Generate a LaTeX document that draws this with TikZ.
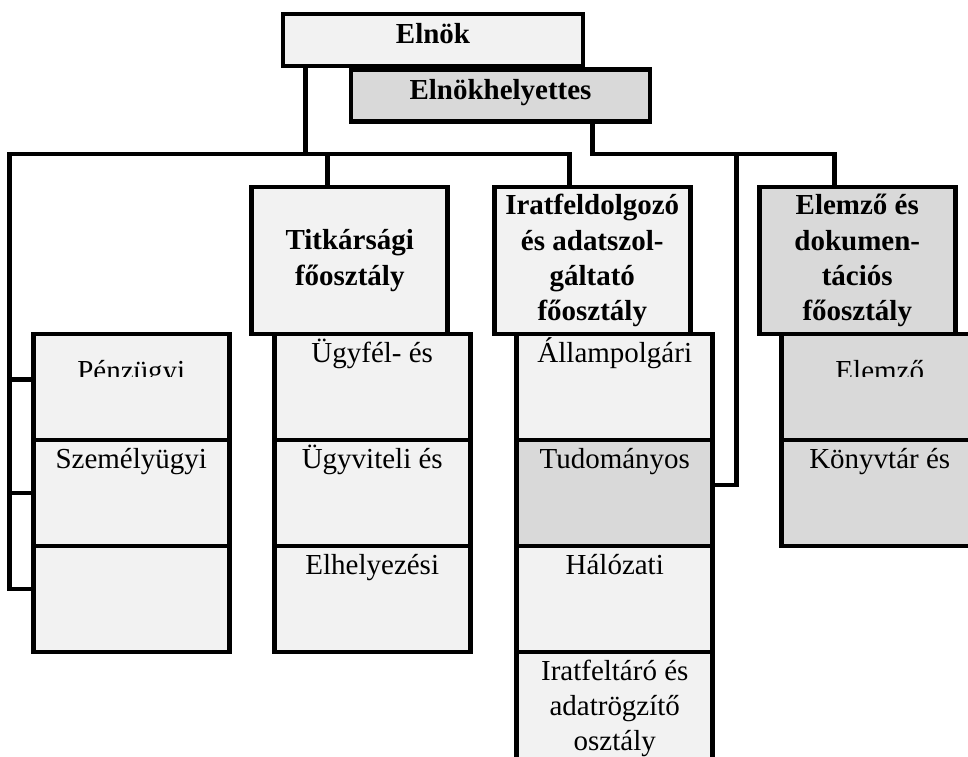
\documentclass[tikz,border=0pt]{standalone}
\usepackage{fontspec}
\setmainfont{Liberation Serif}
\usetikzlibrary{positioning}

\definecolor{lightfill}{HTML}{F2F2F2}
\definecolor{darkfill}{HTML}{D9D9D9}
\newcommand{\chartfont}{\fontsize{16.5}{20}\selectfont}

\begin{document}
\begin{tikzpicture}[x=0.02cm, y=-0.02cm, line width=2.6pt, node distance=0pt,
                font=\chartfont,
                box/.style={draw, inner sep=0pt, outer sep=0pt, minimum width=3.92cm},
                top node/.style={box, font=\chartfont\bfseries, text height=0.6cm, text depth=0.44cm},
                head node/.style={box, font=\chartfont\bfseries, align=center, minimum height=2.94cm},
                unit node/.style={box, text height=0.57cm, text depth=1.55cm}]

  \useasboundingbox (0,0) rectangle (968,757);
  \clip (0,0) rectangle (968,757);

  \node[top node, fill=lightfill, minimum width=6cm] (elnok) at (433,40) {Elnök};
  \node[top node, fill=darkfill, minimum width=5.98cm] (helyettes) at (500.5,95.5) {Elnökhelyettes};

  \node[head node, fill=lightfill] (titk) at (349.75,260.5) {Titkársági\\főosztály};
  \node[head node, fill=lightfill] (irat) at (592.25,260.5) {Iratfeldolgozó\\és adatszol-\\gáltató\\főosztály};
  \node[head node, fill=darkfill] (elemzo) at (857.25,260.5) {Elemző és\\dokumen-\\tációs\\főosztály};

  \node[unit node, fill=lightfill, anchor=north] (penz) at (131.25,334) {};
  \node[unit node, fill=lightfill, below=of penz] (szemely) {Személyügyi};
  \node[unit node, fill=lightfill, below=of szemely] (harmadik) {};

  \node[unit node, fill=lightfill, below=of titk, xshift=0.45cm] (ugyfel) {Ügyfél- és};
  \node[unit node, fill=lightfill, below=of ugyfel] (ugyviteli) {Ügyviteli és};
  \node[unit node, fill=lightfill, below=of ugyviteli] (elhelyezesi) {Elhelyezési};

  \node[unit node, fill=lightfill, below=of irat, xshift=0.45cm] (allampolgari) {Állampolgári};
  \node[unit node, fill=darkfill, below=of allampolgari] (tudomanyos) {Tudományos};
  \node[unit node, fill=lightfill, below=of tudomanyos] (halozati) {Hálózati};
  \node[unit node, fill=lightfill, below=of halozati, text depth=1.9cm] (iratfeltaro)
    {\begin{tabular}[t]{@{}c@{}}Iratfeltáró és\\adatrögzítő\\osztály\end{tabular}};

  \node[unit node, fill=darkfill, below=of elemzo, xshift=0.45cm] (elemzes) {};
  \node[unit node, fill=darkfill, below=of elemzes] (konyvtar) {Könyvtár és};

  \begin{scope}
    \clip (penz.north west) rectangle ([yshift=-0.86cm]penz.north east);
    \node[anchor=base] (penztext) at ([yshift=-0.94cm]penz.north) {Pénzügyi};
  \end{scope}
  \begin{scope}
    \clip (elemzes.north west) rectangle ([yshift=-0.86cm]elemzes.north east);
    \node[anchor=base] (elemzestext) at ([yshift=-0.94cm]elemzes.north) {Elemző};
  \end{scope}

  \coordinate (lbus) at (9.5,154);
  \coordinate (rbus) at (736.5,154);
  \coordinate (elnokOut) at ([xshift=-2.55cm]elnok.south);
  \coordinate (helyOut) at ([xshift=1.84cm]helyettes.south);
  \coordinate (titkIn) at ([xshift=-0.45cm]titk.north);
  \coordinate (iratIn) at ([xshift=-0.45cm]irat.north);
  \coordinate (elemzoIn) at ([xshift=-0.45cm]elemzo.north);
  \coordinate (penzIn) at ([yshift=0.15cm]penz.west);
  \coordinate (harmIn) at ([yshift=0.2cm]harmadik.west);
  \coordinate (tudIn) at ([yshift=0.16cm]tudomanyos.east);

  \draw (elnokOut) -- (elnokOut |- lbus);
  \draw (iratIn) |- (lbus) |- (harmIn);
  \draw (titkIn) -- (titkIn |- lbus);
  \draw (penzIn -| lbus) -- (penzIn);
  \draw (szemely.west -| lbus) -- (szemely.west);

  \draw (helyOut) |- (rbus) -| (elemzoIn);
  \draw (rbus) |- (tudIn);
\end{tikzpicture}
\end{document}
